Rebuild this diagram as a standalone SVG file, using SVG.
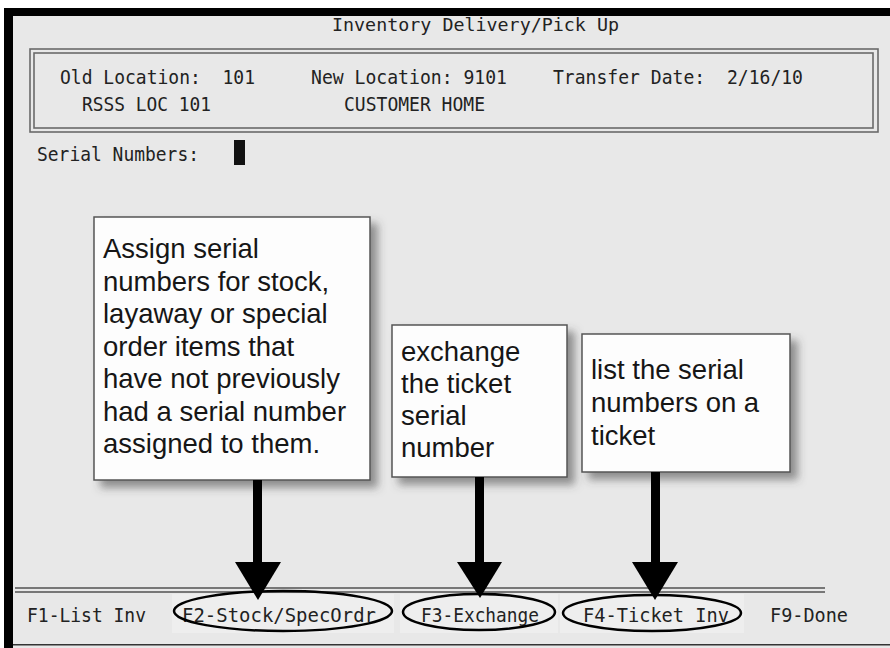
<svg xmlns="http://www.w3.org/2000/svg" width="890" height="648" viewBox="0 0 890 648">
<defs>
<style>
.term{font-family:"DejaVu Sans Mono","Liberation Mono",monospace;font-size:20px;fill:#222;white-space:pre}
.title{font-size:18px}
.note{font-family:"Liberation Sans",Arial,sans-serif;font-size:27.5px;fill:#161616}
.box{fill:#fdfdfd;stroke:#555;stroke-width:1.5}
.dbl{fill:none;stroke:#6a6a6a;stroke-width:1.6}
.key{fill:none;stroke:#000;stroke-width:2.5}
.arr{fill:#000}
.pad{fill:#eeeeee}
</style>
<filter id="sh" x="-10%" y="-10%" width="130%" height="130%">
<feDropShadow dx="7" dy="7" stdDeviation="4" flood-color="#444" flood-opacity="0.55"/>
</filter>
</defs>
<rect x="0" y="0" width="890" height="648" fill="#fff"/>
<rect x="4" y="8" width="886" height="640" fill="#e8e8e8"/>
<rect x="4" y="8" width="886" height="8" fill="#000"/>
<rect x="4" y="8" width="9" height="640" fill="#000"/>
<rect x="13" y="644" width="877" height="1.5" fill="#333"/>

<g id="header">
<text class="term title" x="332" y="31" textLength="287" lengthAdjust="spacingAndGlyphs">Inventory Delivery/Pick Up</text>
<rect class="dbl" x="30" y="49" width="848" height="83"/>
<rect class="dbl" x="34" y="53" width="839" height="75"/>
<text class="term" x="60" y="84" textLength="195" lengthAdjust="spacingAndGlyphs">Old Location:  101</text>
<text class="term" x="311" y="84" textLength="196" lengthAdjust="spacingAndGlyphs">New Location: 9101</text>
<text class="term" x="553" y="84" textLength="250" lengthAdjust="spacingAndGlyphs">Transfer Date:  2/16/10</text>
<text class="term" x="82" y="111" textLength="129" lengthAdjust="spacingAndGlyphs">RSSS LOC 101</text>
<text class="term" x="344" y="111" textLength="141" lengthAdjust="spacingAndGlyphs">CUSTOMER HOME</text>
</g>

<g id="serial">
<text class="term" x="37" y="161" textLength="162" lengthAdjust="spacingAndGlyphs">Serial Numbers:</text>
<rect x="234" y="140" width="11" height="25" fill="#111"/>
</g>

<g id="note-stock">
<rect class="box" x="94" y="217" width="276" height="263" filter="url(#sh)"/>
<text class="note"><tspan x="103" y="258">Assign serial</tspan><tspan x="103" y="290.5">numbers for stock,</tspan><tspan x="103" y="323">layaway or special</tspan><tspan x="103" y="355.5">order items that</tspan><tspan x="103" y="388">have not previously</tspan><tspan x="103" y="420.5">had a serial number</tspan><tspan x="103" y="453">assigned to them.</tspan></text>
</g>

<g id="note-exchange">
<rect class="box" x="392" y="325" width="175" height="152" filter="url(#sh)"/>
<text class="note"><tspan x="401" y="361">exchange</tspan><tspan x="401" y="393">the ticket</tspan><tspan x="401" y="425">serial</tspan><tspan x="401" y="457">number</tspan></text>
</g>

<g id="note-ticket">
<rect class="box" x="582" y="334" width="208" height="138" filter="url(#sh)"/>
<text class="note"><tspan x="591" y="379">list the serial</tspan><tspan x="591" y="412">numbers on a</tspan><tspan x="591" y="445">ticket</tspan></text>
</g>

<g id="footer">
<line x1="15" y1="588" x2="825" y2="588" stroke="#777" stroke-width="2"/>
<line x1="15" y1="592" x2="825" y2="592" stroke="#777" stroke-width="2"/>
<text class="term" x="27" y="622" textLength="119" lengthAdjust="spacingAndGlyphs">F1-List Inv</text>
<text class="term" x="770" y="622" textLength="78" lengthAdjust="spacingAndGlyphs">F9-Done</text>
</g>

<g id="key-f2">
<rect class="pad" x="172" y="594" width="222" height="39"/>
<text class="term" x="182" y="622" textLength="194" lengthAdjust="spacingAndGlyphs">F2-Stock/SpecOrdr</text>
<ellipse class="key" cx="283" cy="611" rx="109" ry="20"/>
</g>
<g id="key-f3">
<rect class="pad" x="400" y="594" width="158" height="39"/>
<text class="term" x="421" y="622" textLength="118" lengthAdjust="spacingAndGlyphs">F3-Exchange</text>
<ellipse class="key" cx="479" cy="612" rx="76" ry="18"/>
</g>
<g id="key-f4">
<rect class="pad" x="560" y="594" width="184" height="39"/>
<text class="term" x="583" y="622" textLength="146" lengthAdjust="spacingAndGlyphs">F4-Ticket Inv</text>
<ellipse class="key" cx="652" cy="613" rx="89" ry="18"/>
</g>

<g id="connectors">
<rect class="arr" x="253" y="480" width="9" height="83"/>
<polygon class="arr" points="235,562 281,562 258,600"/>
<rect class="arr" x="475" y="477" width="9" height="86"/>
<polygon class="arr" points="457,562 502,562 480,598"/>
<rect class="arr" x="651" y="472" width="9" height="91"/>
<polygon class="arr" points="632,562 678,562 655,600"/>
</g>
</svg>
